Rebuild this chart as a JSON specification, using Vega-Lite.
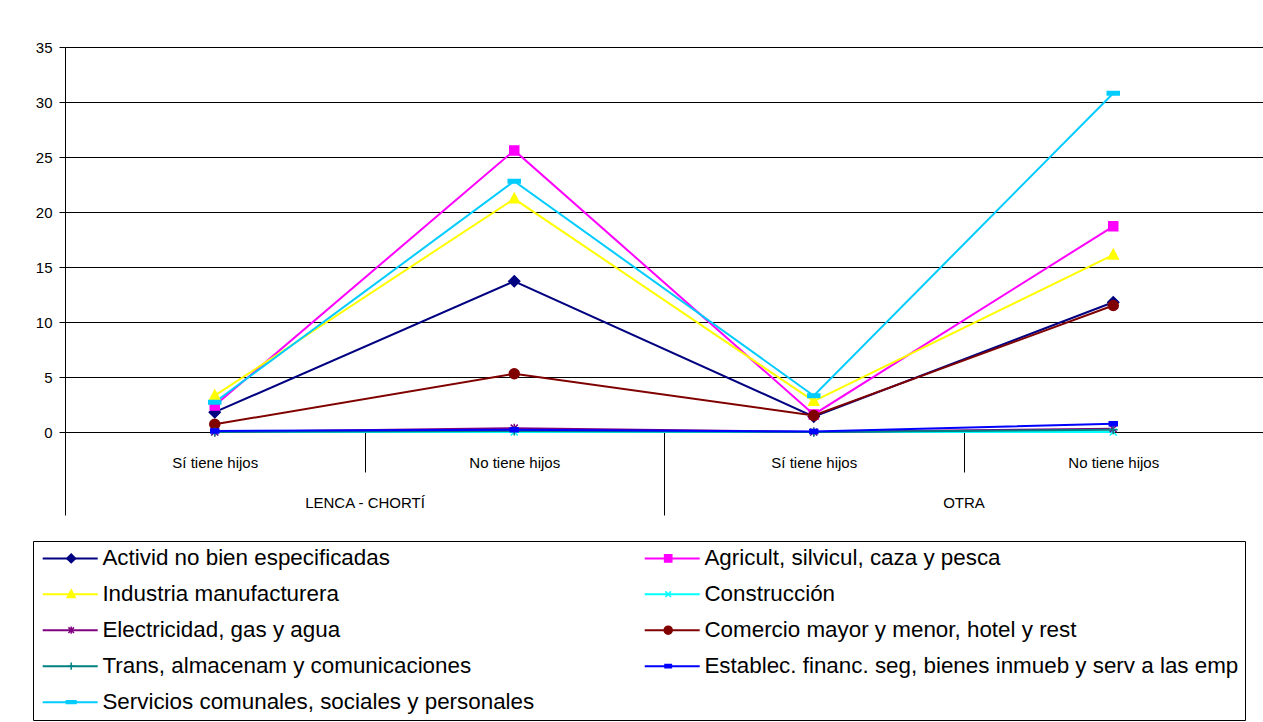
{
  "$schema": "https://vega.github.io/schema/vega-lite/v6.json",
  "autosize": {"type": "none"},
  "padding": {"left": 65, "top": 47, "right": 0, "bottom": 290},
  "width": 1198,
  "height": 385,
  "background": "white",
  "config": {
    "font": "Liberation Sans",
    "view": {"stroke": null}
  },
  "layer": [
    {
      "data": {
        "values": [
          {"serie": "Activid no bien especificadas", "cat": "LENCA - CHORTÍ|Sí tiene hijos", "valor": 1.8},
          {"serie": "Activid no bien especificadas", "cat": "LENCA - CHORTÍ|No tiene hijos", "valor": 13.7},
          {"serie": "Activid no bien especificadas", "cat": "OTRA|Sí tiene hijos", "valor": 1.4},
          {"serie": "Activid no bien especificadas", "cat": "OTRA|No tiene hijos", "valor": 11.8},
          {"serie": "Agricult, silvicul, caza y pesca", "cat": "LENCA - CHORTÍ|Sí tiene hijos", "valor": 2.4},
          {"serie": "Agricult, silvicul, caza y pesca", "cat": "LENCA - CHORTÍ|No tiene hijos", "valor": 25.6},
          {"serie": "Agricult, silvicul, caza y pesca", "cat": "OTRA|Sí tiene hijos", "valor": 1.6},
          {"serie": "Agricult, silvicul, caza y pesca", "cat": "OTRA|No tiene hijos", "valor": 18.7},
          {"serie": "Industria manufacturera", "cat": "LENCA - CHORTÍ|Sí tiene hijos", "valor": 3.3},
          {"serie": "Industria manufacturera", "cat": "LENCA - CHORTÍ|No tiene hijos", "valor": 21.2},
          {"serie": "Industria manufacturera", "cat": "OTRA|Sí tiene hijos", "valor": 2.8},
          {"serie": "Industria manufacturera", "cat": "OTRA|No tiene hijos", "valor": 16.1},
          {"serie": "Construcción", "cat": "LENCA - CHORTÍ|Sí tiene hijos", "valor": 0},
          {"serie": "Construcción", "cat": "LENCA - CHORTÍ|No tiene hijos", "valor": 0},
          {"serie": "Construcción", "cat": "OTRA|Sí tiene hijos", "valor": 0},
          {"serie": "Construcción", "cat": "OTRA|No tiene hijos", "valor": 0},
          {"serie": "Electricidad, gas y agua", "cat": "LENCA - CHORTÍ|Sí tiene hijos", "valor": 0},
          {"serie": "Electricidad, gas y agua", "cat": "LENCA - CHORTÍ|No tiene hijos", "valor": 0.35},
          {"serie": "Electricidad, gas y agua", "cat": "OTRA|Sí tiene hijos", "valor": 0},
          {"serie": "Electricidad, gas y agua", "cat": "OTRA|No tiene hijos", "valor": 0.3},
          {"serie": "Comercio mayor y menor, hotel y rest", "cat": "LENCA - CHORTÍ|Sí tiene hijos", "valor": 0.7},
          {"serie": "Comercio mayor y menor, hotel y rest", "cat": "LENCA - CHORTÍ|No tiene hijos", "valor": 5.3},
          {"serie": "Comercio mayor y menor, hotel y rest", "cat": "OTRA|Sí tiene hijos", "valor": 1.5},
          {"serie": "Comercio mayor y menor, hotel y rest", "cat": "OTRA|No tiene hijos", "valor": 11.5},
          {"serie": "Trans, almacenam y comunicaciones", "cat": "LENCA - CHORTÍ|Sí tiene hijos", "valor": 0},
          {"serie": "Trans, almacenam y comunicaciones", "cat": "LENCA - CHORTÍ|No tiene hijos", "valor": 0.1},
          {"serie": "Trans, almacenam y comunicaciones", "cat": "OTRA|Sí tiene hijos", "valor": 0},
          {"serie": "Trans, almacenam y comunicaciones", "cat": "OTRA|No tiene hijos", "valor": 0.2},
          {"serie": "Establec. financ. seg, bienes inmueb y serv a las emp", "cat": "LENCA - CHORTÍ|Sí tiene hijos", "valor": 0.1},
          {"serie": "Establec. financ. seg, bienes inmueb y serv a las emp", "cat": "LENCA - CHORTÍ|No tiene hijos", "valor": 0.2},
          {"serie": "Establec. financ. seg, bienes inmueb y serv a las emp", "cat": "OTRA|Sí tiene hijos", "valor": 0.05},
          {"serie": "Establec. financ. seg, bienes inmueb y serv a las emp", "cat": "OTRA|No tiene hijos", "valor": 0.75},
          {"serie": "Servicios comunales, sociales y personales", "cat": "LENCA - CHORTÍ|Sí tiene hijos", "valor": 2.7},
          {"serie": "Servicios comunales, sociales y personales", "cat": "LENCA - CHORTÍ|No tiene hijos", "valor": 22.8},
          {"serie": "Servicios comunales, sociales y personales", "cat": "OTRA|Sí tiene hijos", "valor": 3.3},
          {"serie": "Servicios comunales, sociales y personales", "cat": "OTRA|No tiene hijos", "valor": 30.8}
        ]
      },
      "layer": [
        {
          "mark": {"type": "line", "strokeWidth": 2},
          "encoding": {
            "x": {
              "field": "cat", "type": "nominal", "sort": null,
              "scale": {"type": "band", "domain": ["LENCA - CHORTÍ|Sí tiene hijos", "LENCA - CHORTÍ|No tiene hijos", "OTRA|Sí tiene hijos", "OTRA|No tiene hijos"], "paddingInner": 0, "paddingOuter": 0},
              "axis": {
                "orient": "bottom", "title": null, "labelAngle": 0, "tickBand": "extent",
                "tickSize": 40, "tickColor": "black", "tickWidth": 1, "domainColor": "black", "domainWidth": 1,
                "labelExpr": "split(datum.label, '|')[1]", "labelFontSize": 15, "labelColor": "black",
                "labelPadding": -17, "labelFont": "Liberation Sans", "grid": false
              }
            },
            "y": {
              "field": "valor", "type": "quantitative",
              "scale": {"domain": [0, 35], "nice": false, "zero": true},
              "axis": {
                "title": null, "values": [0, 5, 10, 15, 20, 25, 30, 35], "grid": true,
                "gridColor": "black", "gridOpacity": 1, "gridWidth": 1,
                "domainColor": "black", "tickColor": "black", "tickSize": 6,
                "labelPadding": 7, "labelFontSize": 15, "labelColor": "black", "labelFont": "Liberation Sans"
              }
            },
            "color": {
              "field": "serie", "type": "nominal",
              "scale": {
                "domain": ["Activid no bien especificadas", "Agricult, silvicul, caza y pesca", "Industria manufacturera", "Construcción", "Electricidad, gas y agua", "Comercio mayor y menor, hotel y rest", "Trans, almacenam y comunicaciones", "Establec. financ. seg, bienes inmueb y serv a las emp", "Servicios comunales, sociales y personales"],
                "range": ["#000080", "#FF00FF", "#FFFF00", "#00FFFF", "#800080", "#800000", "#008080", "#0000FF", "#00CCFF"]
              },
              "legend": {
                "title": null, "orient": "none", "legendX": -32, "legendY": 494,
                "direction": "horizontal", "columns": 2, "columnPadding": 105, "rowPadding": 13,
                "symbolType": "M-5.5,0H5.5", "symbolSize": 100, "symbolStrokeWidth": 2, "symbolOffset": 20, "labelOffset": 21,
                "labelFont": "Liberation Sans", "labelFontSize": 22.4, "labelColor": "black", "labelLimit": 0,
                "strokeColor": "black", "padding": 6
              }
            }
          }
        },
        {
          "mark": {"type": "point", "filled": true, "size": 100, "opacity": 1, "strokeWidth": 1.5},
          "encoding": {
            "x": {
              "field": "cat", "type": "nominal", "sort": null,
              "axis": {
                "orient": "bottom", "title": null, "labelAngle": 0, "tickBand": "extent",
                "tickSize": 40, "tickColor": "black", "tickWidth": 1, "domainColor": "black", "domainWidth": 1,
                "labelExpr": "split(datum.label, '|')[1]", "labelFontSize": 15, "labelColor": "black",
                "labelPadding": -17, "labelFont": "Liberation Sans", "grid": false
              }
            },
            "y": {"field": "valor", "type": "quantitative"},
            "fill": {
              "field": "serie", "type": "nominal", "sort": null,
              "scale": {"range": ["#000080", "#FF00FF", "#FFFF00", "#00FFFF", "#800080", "#800000", "#008080", "#0000FF", "#00CCFF"]},
              "legend": {
                "title": null, "orient": "none", "legendX": -32, "legendY": 494,
                "direction": "horizontal", "columns": 2, "columnPadding": 532, "rowPadding": 13,
                "symbolSize": 64, "symbolStrokeWidth": 1.5, "symbolOffset": 21, "labelOffset": 21,
                "labelExpr": "' '", "labelFont": "Liberation Sans", "labelFontSize": 22.4, "labelLimit": 0, "padding": 6
              }
            },
            "stroke": {
              "field": "serie", "type": "nominal", "sort": null,
              "scale": {"range": ["#000080", "#FF00FF", "#FFFF00", "#00FFFF", "#800080", "#800000", "#008080", "#0000FF", "#00CCFF"]},
              "legend": {
                "title": null, "orient": "none", "legendX": -32, "legendY": 494,
                "direction": "horizontal", "columns": 2, "columnPadding": 532, "rowPadding": 13,
                "symbolSize": 64, "symbolStrokeWidth": 1.5, "symbolOffset": 21, "labelOffset": 21,
                "labelExpr": "' '", "labelFont": "Liberation Sans", "labelFontSize": 22.4, "labelLimit": 0, "padding": 6
              }
            },
            "shape": {
              "field": "serie", "type": "nominal", "sort": null,
              "scale": {
                "range": ["M0,-1.1L1.1,0L0,1.1L-1.1,0Z", "M-0.9,-0.9H0.9V0.9H-0.9Z", "M0,-1.1L1,0.8H-1Z", "M-0.7,-0.7L0.7,0.7M-0.7,0.7L0.7,-0.7", "M-0.7,-0.7L0.7,0.7M-0.7,0.7L0.7,-0.7M0,-0.9V0.9", "circle", "M-0.9,0H0.9M0,-0.9V0.9", "M-0.8,-0.4H0.8V0.4H-0.8Z", "M-1.2,-0.35H1.2V0.35H-1.2Z"]
              },
              "legend": {
                "title": null, "orient": "none", "legendX": -32, "legendY": 494,
                "direction": "horizontal", "columns": 2, "columnPadding": 532, "rowPadding": 13,
                "symbolSize": 64, "symbolStrokeWidth": 1.5, "symbolOffset": 21, "labelOffset": 21,
                "labelExpr": "' '", "labelFont": "Liberation Sans", "labelFontSize": 22.4, "labelLimit": 0, "padding": 6
              }
            }
          }
        }
      ]
    },
    {
      "data": {"values": [{"grupo": "LENCA - CHORTÍ"}, {"grupo": "OTRA"}]},
      "mark": {"type": "point", "opacity": 0},
      "encoding": {
        "x": {
          "field": "grupo", "type": "nominal", "sort": null,
          "scale": {"type": "band", "domain": ["LENCA - CHORTÍ", "OTRA"], "paddingInner": 0, "paddingOuter": 0},
          "axis": {
            "orient": "bottom", "title": null, "labelAngle": 0, "tickBand": "extent",
            "tickSize": 83, "tickColor": "black", "tickWidth": 1, "domain": false,
            "labelFontSize": 15, "labelColor": "black", "labelPadding": -20, "labelFont": "Liberation Sans", "grid": false
          }
        }
      }
    }
  ],
  "resolve": {"scale": {"x": "independent"}, "axis": {"x": "independent"}}
}
